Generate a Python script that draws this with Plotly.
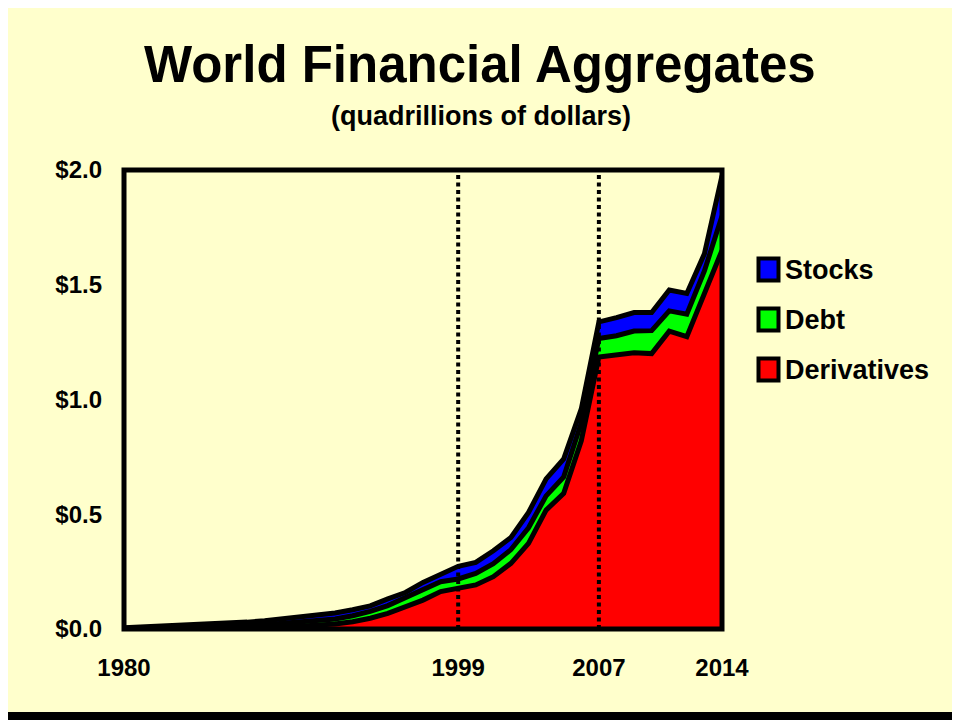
import plotly.graph_objects as go

# ---------------- data (quadrillions of dollars) ----------------
years = list(range(1980, 2015))
derivatives = [0, 0, 0, 0, 0, 0, 0, 0.002, 0.005, 0.008,
               0.012, 0.016, 0.022, 0.032, 0.047, 0.068, 0.097, 0.126, 0.163, 0.176,
               0.192, 0.228, 0.286, 0.373, 0.518, 0.591, 0.82, 1.185, 1.194, 1.204,
               1.20, 1.298, 1.274, 1.465, 1.65]
debt = [0.003, 0.004, 0.005, 0.006, 0.007, 0.008, 0.010, 0.012, 0.014, 0.016,
        0.018, 0.020, 0.022, 0.026, 0.030, 0.034, 0.038, 0.042, 0.043, 0.042,
        0.050, 0.057, 0.060, 0.068, 0.062, 0.072, 0.078, 0.081, 0.084, 0.094,
        0.100, 0.088, 0.098, 0.095, 0.15]
stocks = [0.002, 0.004, 0.007, 0.009, 0.011, 0.014, 0.016, 0.016, 0.017, 0.020,
          0.020, 0.022, 0.026, 0.026, 0.024, 0.029, 0.024, 0.035, 0.034, 0.055,
          0.048, 0.056, 0.053, 0.067, 0.074, 0.078, 0.061, 0.072, 0.079, 0.081,
          0.079, 0.091, 0.090, 0.075, 0.175]

series_names = ["Derivatives", "Debt", "Stocks"]
series_colors = ["#FF0000", "#00FF00", "#0000FF"]
x_ticks = [1980, 1999, 2007, 2014]
y_ticks = [0, 0.5, 1.0, 1.5, 2.0]
y_tick_labels = ["$0.0", "$0.5", "$1.0", "$1.5", "$2.0"]
marker_years = [1999, 2007]
legend_order = ["Stocks", "Debt", "Derivatives"]

# ---------------- layout constants ----------------
BG = "#FFFFCC"
FONT = "Liberation Sans, Arial, sans-serif"
OFF = 8                      # page body margin in the browser
W, H = 960 - OFF, 720 - OFF  # figure size so that it fits the window
# plot area, in window pixels: x 124..722, y 170..629
L = 124 - OFF
T = 170 - OFF
R = W - (722 - OFF)
B = H - (629 - OFF)
PW = W - L - R
PH = H - T - B


def px_x(px):
    """window pixel x -> paper x"""
    return (px - OFF - L) / PW


def px_y(py):
    """window pixel y -> paper y"""
    return (H - B - (py - OFF)) / PH


fig = go.Figure()
for name, vals, col in zip(series_names, [derivatives, debt, stocks], series_colors):
    fig.add_trace(go.Scatter(
        x=years, y=vals, name=name, mode="lines", stackgroup="one",
        fillcolor=col, line=dict(color="black", width=5),
        showlegend=False, hoverinfo="x+y+name",
    ))

shapes = []
# dotted marker lines
for yr in marker_years:
    shapes.append(dict(type="line", xref="x", yref="paper", x0=yr, x1=yr, y0=0, y1=1,
                       line=dict(color="black", width=4, dash="4px,3.5px"), layer="above"))
# plot frame
shapes.append(dict(type="rect", xref="paper", yref="paper", x0=0, x1=1, y0=0, y1=1,
                   line=dict(color="black", width=5), layer="above"))
# outer border (window edges 0..960 x 0..720, 8 px wide)
shapes.append(dict(type="rect", xref="paper", yref="paper",
                   x0=px_x(4), x1=px_x(956), y0=px_y(716), y1=px_y(4),
                   line=dict(color="black", width=8), layer="above"))

annotations = []
# legend
color_of = dict(zip(series_names, series_colors))
for i, name in enumerate(legend_order):
    cy = 269.5 + 50 * i
    shapes.append(dict(type="rect", xref="paper", yref="paper",
                       x0=px_x(758.5), x1=px_x(778.5), y0=px_y(cy + 11), y1=px_y(cy - 11),
                       fillcolor=color_of[name], line=dict(color="black", width=4), layer="above"))
    annotations.append(dict(text="<b>%s</b>" % name, xref="paper", yref="paper",
                            x=px_x(783), y=px_y(cy), xanchor="left", yanchor="middle",
                            showarrow=False, font=dict(family=FONT, size=27, color="black")))

# title and subtitle
annotations.append(dict(text="<b>World Financial Aggregates</b>", xref="paper", yref="paper",
                        x=px_x(480), y=px_y(64), xanchor="center", yanchor="middle",
                        showarrow=False, font=dict(family=FONT, size=51, color="black")))
annotations.append(dict(text="<b>(quadrillions of dollars)</b>", xref="paper", yref="paper",
                        x=px_x(481), y=px_y(116), xanchor="center", yanchor="middle",
                        showarrow=False, font=dict(family=FONT, size=27, color="black")))

fig.update_layout(
    width=W, height=H,
    margin=dict(l=L, r=R, t=T, b=B, pad=0),
    paper_bgcolor=BG, plot_bgcolor=BG,
    font=dict(family=FONT, color="black"),
    shapes=shapes, annotations=annotations,
    showlegend=False,
    xaxis=dict(range=[1980, 2014], tickvals=x_ticks, ticktext=[str(v) for v in x_ticks],
               showgrid=False, zeroline=False, showline=False, ticks="",
               tickfont=dict(family=FONT, size=24, color="black", weight="bold"),
               ticklabelstandoff=22),
    yaxis=dict(range=[0, 2.0], tickvals=y_ticks, ticktext=y_tick_labels,
               showgrid=False, zeroline=False, showline=False, ticks="",
               tickfont=dict(family=FONT, size=24, color="black", weight="bold"),
               ticklabelstandoff=21),
)

fig.write_html("out.html")
